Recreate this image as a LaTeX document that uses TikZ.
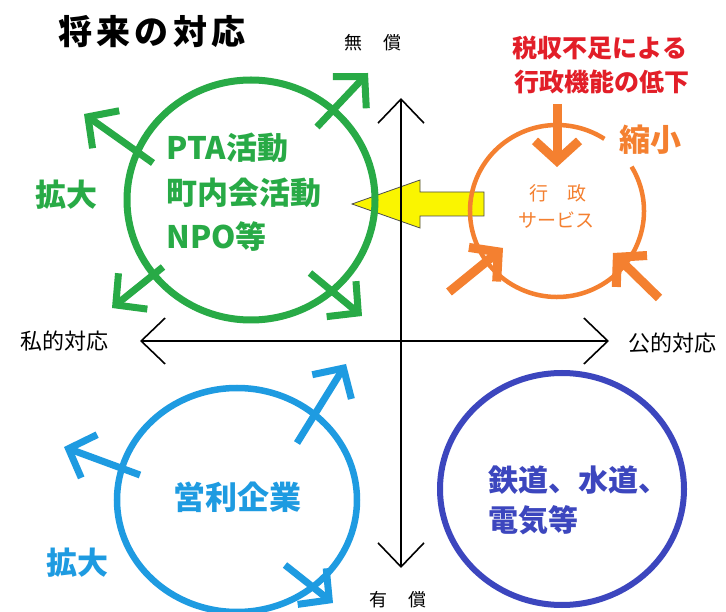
\documentclass[tikz,border=0pt]{standalone}
\usepackage{fontspec}
\newfontfamily\jp{Noto Sans CJK JP}
\usetikzlibrary{arrows.meta}
\definecolor{cgreen}{RGB}{40,170,70}
\definecolor{corange}{RGB}{244,128,48}
\definecolor{cred}{RGB}{226,30,40}
\definecolor{clblue}{RGB}{30,155,225}
\definecolor{cdblue}{RGB}{60,70,190}
\definecolor{cyellow}{RGB}{250,245,0}
\tikzset{
  fs/.style={font=\jp\fontsize{#1}{#1}\selectfont},
  fsb/.style={font=\jp\fontsize{#1}{#1}\selectfont\bfseries},
  axisarrow/.style={line width=1.6pt,{Straight Barb[length=24pt,width=46pt]}-{Straight Barb[length=24pt,width=46pt]}},
  grow/.style={line width=#1,-{Straight Barb[length=22pt,width=46pt]}},
  shrink/.style={line width=9pt,-{Straight Barb[length=20pt,width=44pt]}},
}
\begin{document}
\begin{tikzpicture}[x=1pt,y=-1pt]
\useasboundingbox (0,0) rectangle (726,612);
\fill[white] (0,0) rectangle (726,612);

% yellow arrow (under the rest)
\coordinate (y0) at (352,204);
\fill[cyellow,draw=black!70,line width=0.8pt] (y0) -- (420,180) -- (420,192) -- (484,192) -- (484,216) -- (420,216) -- (420,228) -- cycle;

% axes
\coordinate (ax-t) at (401,98);
\coordinate (ax-b) at (401,568);
\coordinate (ax-l) at (140,341);
\coordinate (ax-r) at (609,341);
\draw[axisarrow] (ax-b) -- (ax-t);
\draw[axisarrow] (ax-l) -- (ax-r);

\node[fs=18] (mu) at (373,43) {無\hspace{1.2em}償};
\node[fs=18] (yu) at (398,600) {有\hspace{1.2em}償};
\node[fs=22] (shi) at (64,341) {私的対応};
\node[fs=22] (ko) at (672,343) {公的対応};

% title
\node[font=\jp\fontsize{34}{34}\selectfont\bfseries\addfontfeature{LetterSpace=12}] (title) at (152,32) {将来の対応};

% green group
\coordinate (gc) at (251,200);
\draw[cgreen,line width=7pt] (gc) ellipse [x radius=124, y radius=120];
\coordinate (g1a) at (153,163); \coordinate (g1b) at (84,114);
\coordinate (g2a) at (317,127); \coordinate (g2b) at (368,73);
\coordinate (g3a) at (163,267); \coordinate (g3b) at (112,308);
\coordinate (g4a) at (310,273); \coordinate (g4b) at (362,316);
\foreach \i in {1,2,3,4} \draw[cgreen,grow=7pt] (g\i a) -- (g\i b);
\node[fsb=31,text=cgreen] (gk) at (66,195) {拡大};
\node[fsb=31,text=cgreen,anchor=west] (gt1) at (163,148) {PTA活動};
\node[fsb=31,text=cgreen,anchor=west] (gt2) at (163,193) {町内会活動};
\node[fsb=31,text=cgreen,anchor=west] (gt3) at (163,237) {NPO等};

% orange group
\coordinate (oc) at (557,211);
\draw[corange,line width=4.5pt] (oc) ++(-31:87 and 86) arc[start angle=-31,end angle=303,x radius=87,y radius=86];
\coordinate (o1a) at (557,104); \coordinate (o1b) at (557,167);
\coordinate (o2a) at (449,292); \coordinate (o2b) at (503,248);
\coordinate (o3a) at (659,298); \coordinate (o3b) at (613,253);
\foreach \i in {1,2,3} \draw[corange,shrink] (o\i a) -- (o\i b);
\node[fs=19,text=corange] (ot1) at (558,193) {行\hspace{1em}政};
\node[fs=19,text=corange] (ot2) at (556,220) {サービス};
\node[fsb=31,text=corange] (osh) at (650,140) {縮小};
\node[fsb=25,text=cred] (r1) at (600,48) {税収不足による};
\node[fsb=25,text=cred] (r2) at (602,82) {行政機能の低下};

% light blue group
\coordinate (bc) at (237,500);
\draw[clblue,line width=6.5pt] (bc) ellipse [x radius=120, y radius=112];
\coordinate (b1a) at (297,443); \coordinate (b1b) at (346,364);
\coordinate (b2a) at (140,475); \coordinate (b2b) at (64,447);
\coordinate (b3a) at (285,565); \coordinate (b3b) at (333,603);
\foreach \i in {1,2,3} \draw[clblue,grow=7pt] (b\i a) -- (b\i b);
\node[fsb=31,text=clblue] (bk) at (77,563) {拡大};
\node[fsb=32,text=clblue] (bt) at (237,497) {営利企業};

% dark blue group
\coordinate (dc) at (562,489);
\draw[cdblue,line width=6pt] (dc) ellipse [x radius=122, y radius=116];
\node[fsb=30,text=cdblue,anchor=west] (dt1) at (485,480) {鉄道、水道、};
\node[fsb=30,text=cdblue,anchor=west] (dt2) at (485,520) {電気等};
\end{tikzpicture}
\end{document}
